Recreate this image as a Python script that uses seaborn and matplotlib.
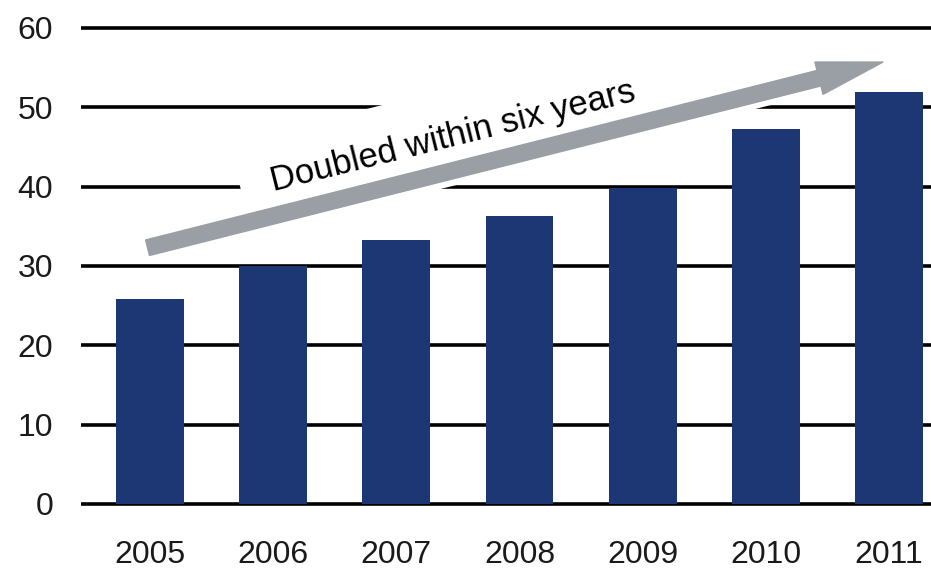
import matplotlib
matplotlib.use("Agg")
import matplotlib.pyplot as plt
import matplotlib.patheffects as pe
import seaborn as sns

# data
years = ["2005", "2006", "2007", "2008", "2009", "2010", "2011"]
values = [25.8, 30.0, 33.3, 36.3, 39.8, 47.2, 51.9]
y_ticks = [0, 10, 20, 30, 40, 50, 60]
note = "Doubled within six years"

bar_color = "#1c3774"
arrow_color = "#999fa5"

sns.set_style("white")
plt.rcParams["font.family"] = ["Liberation Sans", "DejaVu Sans"]

fig = plt.figure(figsize=(9.31, 5.68), dpi=100)
ax = fig.add_axes([0.087, 0.1085, 0.913, 0.8493])

sns.barplot(x=years, y=values, color=bar_color, saturation=1, width=0.55,
            linewidth=0, ax=ax)

ax.set_ylim(-0.3, 60.5)
ax.set_xlim(-0.56, 6.34)
ax.set_yticks(y_ticks)
ax.set_xlabel("")
ax.set_ylabel("")

# black horizontal gridlines behind the bars
ax.set_axisbelow(True)
ax.yaxis.grid(True, color="black", linewidth=2.6)
ax.xaxis.grid(False)
sns.despine(ax=ax, left=True, bottom=True)
ax.tick_params(axis="y", length=0, pad=20, labelsize=23, labelcolor="#1a1a1a")
ax.tick_params(axis="x", length=0, pad=24, labelsize=23, labelcolor="#1a1a1a")

# growth arrow and label
ax.annotate("", xy=(5.95, 55.7), xytext=(-0.02, 32.3),
            arrowprops=dict(arrowstyle="simple,head_length=0.95,head_width=0.48,tail_width=0.23",
                            color=arrow_color, mutation_scale=50,
                            shrinkA=0, shrinkB=0,
                            path_effects=[pe.withStroke(linewidth=9, foreground="white")]),
            zorder=4)
ax.text(2.46, 46.3, note, rotation=14, rotation_mode="anchor",
        ha="center", va="center", fontsize=25, color="black", zorder=3,
        bbox=dict(boxstyle="square,pad=0.9", facecolor="white", edgecolor="none"))

fig.savefig("out.png", dpi=100)
